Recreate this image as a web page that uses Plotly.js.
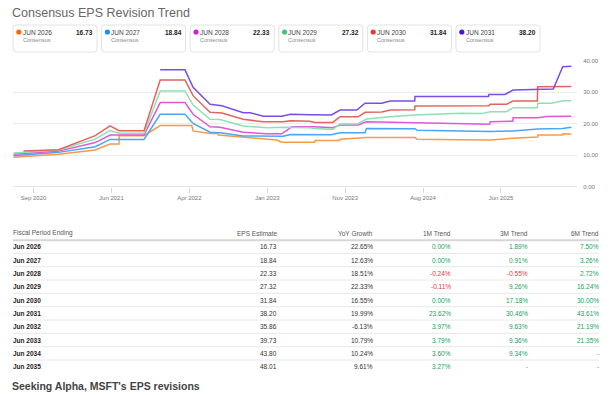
<!DOCTYPE html>
<html><head><meta charset="utf-8">
<script src="https://cdn.plot.ly/plotly-3.0.1.min.js"></script>
<style>html,body{margin:0;padding:0;background:#fff;overflow:hidden}#chart{width:614px;height:395px}</style>
</head><body><div id="chart"></div>
<script>
// ---------- DATA ----------
const seriesNames = ['JUN 2026','JUN 2027','JUN 2028','JUN 2029','JUN 2030','JUN 2031'];
const latestEps   = [16.73, 18.84, 22.33, 27.32, 31.84, 38.20];

const dates2026 = ['2020-06-28','2020-12-12','2021-04-27','2021-06-21','2021-07-24','2021-07-25','2021-10-25','2021-12-24','2022-04-20','2022-04-25','2022-06-27','2022-07-27','2022-07-28','2022-11-04','2023-01-28','2023-03-01','2023-03-20','2023-07-20','2023-07-22','2023-10-20','2023-10-22','2024-01-28','2024-07-26','2024-08-03','2025-01-09','2025-05-01','2025-07-25','2025-10-24','2025-10-25','2026-01-25','2026-01-26','2026-02-26'];
const eps2026   = [9.33,10.3,11.65,13.55,13.55,16.2,16.2,19.4,19.4,17.7,16.9,16.9,16.4,15.6,15.1,14.8,14.1,14.1,14.7,14.7,15.1,15.6,15.6,15.1,14.9,14.8,15.4,15.8,16.4,16.4,16.8,16.73];

const dates2027 = ['2020-06-28','2020-12-12','2021-04-27','2021-06-21','2021-10-25','2021-12-24','2022-03-26','2022-04-25','2022-06-27','2022-08-03','2022-10-28','2023-01-23','2023-03-25','2023-04-21','2023-09-20','2023-10-22','2024-01-23','2024-01-28','2024-07-26','2024-08-03','2025-01-09','2025-05-01','2025-07-25','2025-10-24','2026-01-25','2026-02-26'];
const eps2027   = [9.85,10.9,12.7,15.0,15.0,23.0,23.0,20.1,17.3,17.1,16.1,16.0,16.0,16.6,16.5,17.1,17.1,18.5,18.4,17.9,17.7,17.5,17.7,18.3,18.5,18.84];

const dates2028 = ['2020-06-28','2020-12-12','2021-04-27','2021-06-21','2021-10-25','2021-12-24','2022-03-26','2022-04-25','2022-06-27','2022-08-03','2022-10-28','2023-01-23','2023-03-20','2023-04-26','2023-07-20','2023-09-25','2023-10-22','2023-12-28','2024-01-28','2024-07-26','2025-01-09','2025-04-29','2025-05-01','2025-07-24','2025-07-25','2025-10-24','2025-11-27','2026-02-26'];
const eps2028   = [10.3,11.3,14.0,16.4,16.4,26.7,26.7,23.0,19.0,18.9,17.3,16.8,16.8,19.0,19.0,18.7,19.6,19.6,20.6,20.3,19.8,19.8,20.6,20.8,21.9,21.9,22.3,22.33];

const dates2029 = ['2020-06-28','2020-12-12','2021-04-27','2021-06-21','2021-07-24','2021-10-25','2021-12-24','2022-03-26','2022-04-25','2022-06-27','2022-08-03','2022-10-28','2023-01-23','2023-03-25','2023-07-02','2023-07-20','2023-09-25','2023-10-22','2023-12-28','2024-01-28','2024-04-25','2024-07-26','2025-01-09','2025-03-31','2025-05-01','2025-07-01','2025-07-25','2025-10-23','2025-10-24','2025-12-15','2026-01-25','2026-02-26'];
const eps2029   = [10.7,11.65,15.1,17.8,16.95,16.95,30.4,30.4,25.9,21.4,21.3,19.3,18.7,18.9,18.7,18.5,18.2,19.9,20.0,21.5,22.2,22.8,23.3,23.2,23.8,23.8,25.1,25.1,26.5,26.5,27.3,27.32];

const dates2030 = ['2020-08-04','2020-12-12','2021-04-27','2021-06-21','2021-07-24','2021-10-25','2021-12-24','2022-03-26','2022-04-25','2022-06-27','2022-08-10','2022-10-28','2023-01-11','2023-03-25','2023-04-21','2023-07-02','2023-07-20','2023-09-25','2023-10-22','2023-12-28','2024-01-23','2024-03-25','2024-04-25','2024-07-25','2024-07-26','2025-04-25','2025-05-01','2025-07-01','2025-07-25','2025-10-23','2025-10-24','2025-12-21','2026-01-25','2026-02-26'];
const eps2030   = [11.3,11.75,16.2,19.3,17.8,17.8,33.9,33.9,28.9,23.6,23.4,21.4,20.6,20.6,20.95,20.8,20.4,20.4,22.2,22.2,23.6,23.7,24.35,24.4,25.6,25.7,26.2,26.2,27.2,27.2,31.75,31.75,31.85,31.84];

const dates2031 = ['2021-12-24','2022-03-26','2022-04-25','2022-06-27','2022-08-10','2022-10-28','2022-11-22','2023-01-11','2023-03-20','2023-04-21','2023-07-02','2023-09-20','2023-10-22','2023-12-23','2024-01-23','2024-03-25','2024-04-25','2024-07-25','2024-07-26','2025-04-25','2025-04-26','2025-06-25','2025-07-25','2025-09-14','2025-12-21','2026-01-25','2026-02-26'];
const eps2031   = [37.1,37.1,31.55,26.2,25.7,23.5,23.5,22.4,22.4,23.0,22.85,22.8,24.35,24.35,26.5,26.5,27.2,27.2,28.6,28.6,29.3,29.3,30.7,30.8,31.0,38.1,38.2];

const xTickDates  = ['2020-09-10','2021-06-26','2022-04-11','2023-01-25','2023-11-10','2024-08-25','2025-06-10'];
const xTickLabels = ['Sep 2020','Jun 2021','Apr 2022','Jan 2023','Nov 2023','Aug 2024','Jun 2025'];
const yTickValues = [0,10,20,30,40];

const periods     = ['Jun 2026','Jun 2027','Jun 2028','Jun 2029','Jun 2030','Jun 2031','Jun 2032','Jun 2033','Jun 2034','Jun 2035'];
const epsEstimate = [16.73,18.84,22.33,27.32,31.84,38.20,35.86,39.73,43.80,48.01];
const yoyGrowth   = [22.65,12.63,18.51,22.33,16.55,19.99,-6.13,10.79,10.24,9.61];
const trend1M     = [0.00,0.00,-0.24,-0.11,0.00,23.62,3.97,3.79,3.60,3.27];
const trend3M     = [1.89,0.91,-0.55,9.26,17.18,30.46,9.63,9.36,9.34,null];
const trend6M     = [7.50,3.26,2.72,16.24,30.00,43.61,21.19,21.35,null,null];
const tableHeaders = ['Fiscal Period Ending','EPS Estimate','YoY Growth','1M Trend','3M Trend','6M Trend'];

// ---------- STYLE ----------
const W=614,H=395;
const PX=x=>x/W, PY=y=>1-y/H;
const FONT='"Liberation Sans", Arial, sans-serif';
const lineColors=['#f9994a','#4aa6f5','#e256da','#8fe0b2','#e2645a','#7a4de6'];
const dotColors =['#ff6a00','#1f8ff2','#d81ad2','#40c47c','#e53a2c','#4b12e4'];
const allDates=[dates2026,dates2027,dates2028,dates2029,dates2030,dates2031];
const allEps=[eps2026,eps2027,eps2028,eps2029,eps2030,eps2031];

const traces = allDates.map((d,i)=>({
  type:'scatter', mode:'lines', x:d, y:allEps[i], name:seriesNames[i],
  line:{color:lineColors[i], width:1.5}, hoverinfo:'skip', showlegend:false
}));

const annotations=[], shapes=[];
function txt(text,x,y,opts){
  annotations.push(Object.assign({text:text,x:PX(x),y:PY(y),xref:'paper',yref:'paper',showarrow:false,
    xanchor:'left',yanchor:'middle',borderpad:0,borderwidth:0,
    font:{family:FONT,size:7,color:'#333'}},opts||{}));
}
// title
txt('Consensus EPS Revision Trend',12,13.5,{font:{family:FONT,size:12.5,color:'#666'}});

// legend cards
seriesNames.forEach((n,i)=>{
  const x0=13+i*88.6, x1=x0+84, y0=25, y1=52;
  const r=3;
  const pts=`M ${PX(x0+r)},${PY(y0)} L ${PX(x1-r)},${PY(y0)} Q ${PX(x1)},${PY(y0)} ${PX(x1)},${PY(y0+r)} L ${PX(x1)},${PY(y1-r)} Q ${PX(x1)},${PY(y1)} ${PX(x1-r)},${PY(y1)} L ${PX(x0+r)},${PY(y1)} Q ${PX(x0)},${PY(y1)} ${PX(x0)},${PY(y1-r)} L ${PX(x0)},${PY(y0+r)} Q ${PX(x0)},${PY(y0)} ${PX(x0+r)},${PY(y0)} Z`;
  shapes.push({type:'path',xref:'paper',yref:'paper',path:pts,line:{color:'#e2e2e2',width:1},fillcolor:'#fff',layer:'below'});
  const cx=x0+5.8, cy=32, rr=2.6;
  shapes.push({type:'circle',xref:'paper',yref:'paper',x0:PX(cx-rr),x1:PX(cx+rr),y0:PY(cy+rr),y1:PY(cy-rr),fillcolor:dotColors[i],line:{width:0}});
  txt(n,x0+9.5,32.3,{font:{family:FONT,size:6.5,color:'#444'}});
  txt('<b>'+latestEps[i].toFixed(2)+'</b>',x0+80,32.3,{xanchor:'right',font:{family:FONT,size:6.5,color:'#222'}});
  txt('Consensus',x0+9.5,40.3,{font:{family:FONT,size:5.5,color:'#8a8a8a'}});
});

// table
const colRight=[null,277,373.3,450.7,527.7,599];
tableHeaders.forEach((h,c)=>{
  if(c===0) txt(h,13,233.3,{font:{family:FONT,size:6.5,color:'#555'}});
  else txt(h,colRight[c],233.3,{xanchor:'right',font:{family:FONT,size:6.5,color:'#555'}});
});
shapes.push({type:'line',xref:'paper',yref:'paper',x0:PX(13),x1:PX(599),y0:PY(240.2),y1:PY(240.2),line:{color:'#d6d6d6',width:2}});
const fmtPct=v=>v===null?'-':v.toFixed(2)+'%';
const trendColor=v=>v===null?'#888':(v<0?'#e0363c':'#22a05a');
periods.forEach((p,i)=>{
  const y=246.7+13.33*i;
  txt('<b>'+p+'</b>',13,y,{font:{family:FONT,size:6.5,color:'#222'}});
  txt(epsEstimate[i].toFixed(2),colRight[1],y,{xanchor:'right',font:{family:FONT,size:6.5,color:'#333'}});
  txt(fmtPct(yoyGrowth[i]),colRight[2],y,{xanchor:'right',font:{family:FONT,size:6.5,color:'#333'}});
  [trend1M,trend3M,trend6M].forEach((arr,k)=>{
    txt(fmtPct(arr[i]),colRight[3+k],y,{xanchor:'right',font:{family:FONT,size:6.5,color:trendColor(arr[i])}});
  });
  if(i<periods.length-1){
    const ly=y+6.67;
    shapes.push({type:'line',xref:'paper',yref:'paper',x0:PX(13),x1:PX(599),y0:PY(ly),y1:PY(ly),line:{color:'#e8e8e8',width:1}});
  }
});
// caption
txt('<b>Seeking Alpha, MSFT\'s EPS revisions</b>',12,385.5,{font:{family:FONT,size:10.5,color:'#444'}});

const layout={
  width:W,height:H,margin:{l:0,r:0,t:0,b:0,pad:0},
  paper_bgcolor:'#fff',plot_bgcolor:'#fff',showlegend:false,
  xaxis:{type:'date',domain:[PX(13),PX(577)],range:['2020-06-26','2026-03-19'],
    tickmode:'array',tickvals:xTickDates,ticktext:xTickLabels,
    ticks:'outside',ticklen:5,tickwidth:1,tickcolor:'#d8d8d8',
    showgrid:false,zeroline:false,showline:false,
    tickfont:{family:FONT,size:6,color:'#777'},fixedrange:true},
  yaxis:{domain:[PY(186.7),PY(60.7)],range:[0,40],side:'right',
    tickmode:'array',tickvals:yTickValues,tickformat:'.2f',
    ticks:'outside',ticklen:4,tickcolor:'rgba(0,0,0,0)',
    showgrid:true,gridcolor:'#ebebeb',gridwidth:1,zeroline:true,zerolinecolor:'#e4e4e4',zerolinewidth:1,showline:false,
    tickfont:{family:FONT,size:6,color:'#777'},fixedrange:true},
  annotations:annotations,shapes:shapes
};
Plotly.newPlot('chart',traces,layout,{displayModeBar:false,staticPlot:true});
</script></body></html>
